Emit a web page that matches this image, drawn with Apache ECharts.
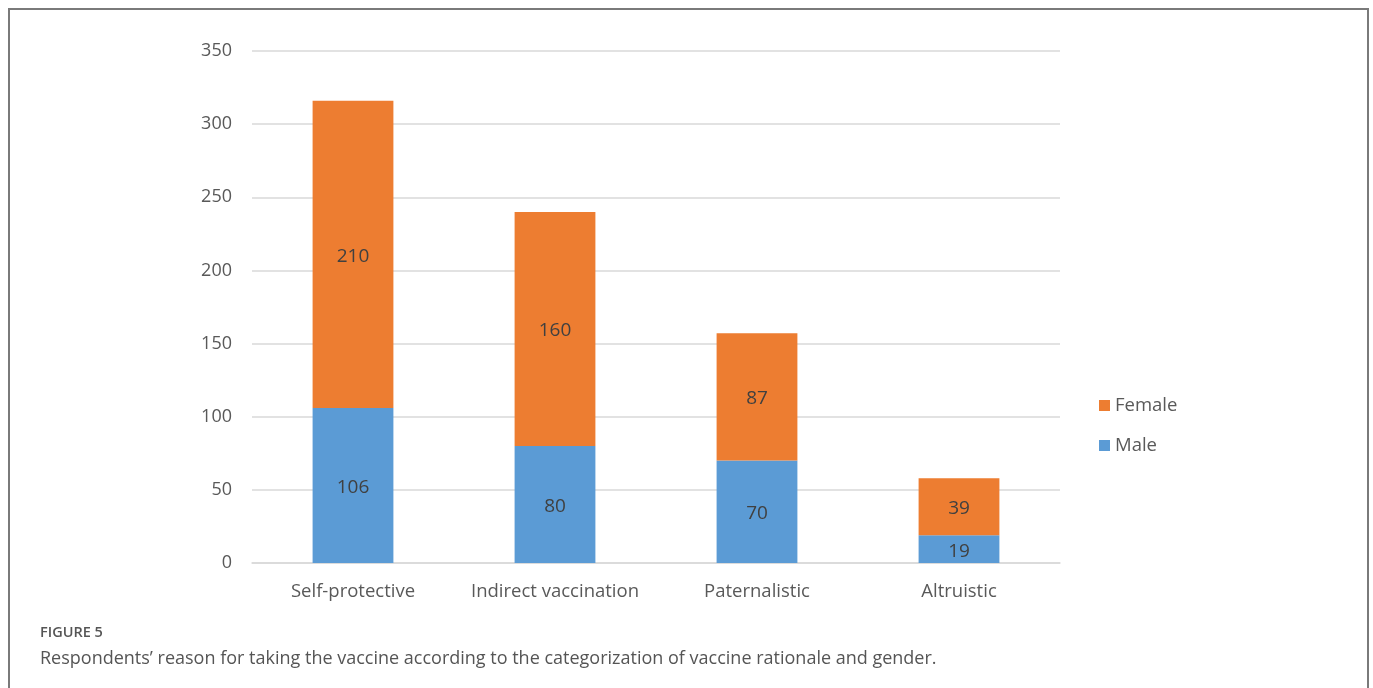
<!DOCTYPE html>
<html>
<head>
<meta charset="utf-8">
<script src="https://cdn.jsdelivr.net/npm/echarts@6/dist/echarts.min.js"></script>
<style>
  html, body { margin: 0; padding: 0; background: #fff; }
  #chart { width: 1373px; height: 688px; }
</style>
</head>
<body>
<div id="chart"></div>
<script>
// Vaccine rationale categories, split by gender
const categories = ['Self-protective', 'Indirect vaccination', 'Paternalistic', 'Altruistic'];
const maleValues = [106, 80, 70, 19];
const femaleValues = [210, 160, 87, 39];
const yTicks = { min: 0, max: 350, interval: 50 };
const captionLabel = 'FIGURE 5';
const captionText = 'Respondents\u2019 reason for taking the vaccine according to the categorization of vaccine rationale and gender.';

const FONT = 'Open Sans';
const chart = echarts.init(document.getElementById('chart'), null, { renderer: 'canvas' });

const labelStyle = {
  show: true,
  position: 'inside',
  offset: [0, 2],
  color: '#404040',
  fontFamily: FONT,
  fontSize: 19
};

chart.setOption({
  backgroundColor: '#ffffff',
  animation: false,
  grid: { left: 252, right: 313, top: 51, bottom: 125 },
  legend: {
    data: ['Female', 'Male'],
    orient: 'vertical',
    left: 1099,
    top: 396,
    padding: 0,
    itemWidth: 11,
    itemHeight: 11,
    itemGap: 21,
    icon: 'rect',
    textStyle: { color: '#595959', fontFamily: FONT, fontSize: 18.5 }
  },
  xAxis: {
    type: 'category',
    data: categories,
    axisLine: { lineStyle: { color: '#d9d9d9', width: 1.5 } },
    axisTick: { show: false },
    axisLabel: { color: '#595959', fontFamily: FONT, fontSize: 18.5, margin: 19, interval: 0 }
  },
  yAxis: {
    type: 'value',
    min: yTicks.min,
    max: yTicks.max,
    interval: yTicks.interval,
    axisLine: { show: false },
    axisTick: { show: false },
    splitLine: { lineStyle: { color: '#d9d9d9', width: 1.5 } },
    axisLabel: { color: '#595959', fontFamily: FONT, fontSize: 18, margin: 20, padding: [2, 0, 0, 0] }
  },
  series: [
    {
      name: 'Male',
      type: 'bar',
      stack: 'total',
      barWidth: '40%',
      data: maleValues,
      itemStyle: { color: '#5b9bd5' },
      label: labelStyle
    },
    {
      name: 'Female',
      type: 'bar',
      stack: 'total',
      barWidth: '40%',
      data: femaleValues,
      itemStyle: { color: '#ed7d31' },
      label: labelStyle
    }
  ],
  graphic: [
    {
      type: 'rect',
      shape: { x: 9, y: 9, width: 1359, height: 720 },
      style: { fill: 'none', stroke: '#7a7a7a', lineWidth: 2 },
      silent: true
    },
    {
      type: 'text',
      left: 40,
      top: 625,
      style: { text: captionLabel, fill: '#555555', font: '600 14.5px "Open Sans"' }
    },
    {
      type: 'text',
      left: 40,
      top: 650,
      style: { text: captionText, fill: '#555555', font: '18px "Open Sans"' }
    }
  ]
});
</script>
</body>
</html>
